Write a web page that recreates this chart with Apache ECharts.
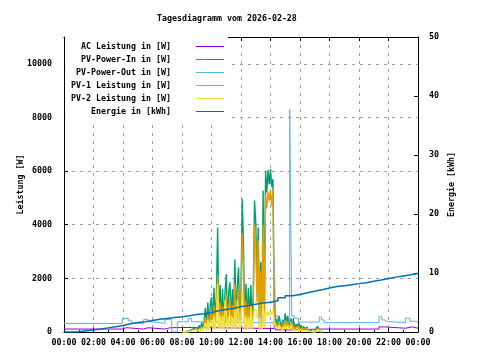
<!DOCTYPE html>
<html><head><meta charset="utf-8">
<script src="https://cdn.jsdelivr.net/npm/echarts@6/dist/echarts.min.js"></script>
<style>html,body{margin:0;padding:0;background:#fff}#c{width:480px;height:360px}</style>
</head><body><div id="c"></div>
<script>
const titleText = 'Tagesdiagramm vom 2026-02-28';
const seriesNames = ['AC Leistung in [W]', 'PV-Power-In in [W]', 'PV-Power-Out in [W]', 'PV-1 Leistung in [W]', 'PV-2 Leistung in [W]', 'Energie in [kWh]'];
const seriesColors = ['#9400d3', '#009e73', '#56b4e9', '#e69f00', '#f0e442', '#0072b2'];
const leftAxisName = 'Leistung [W]';
const rightAxisName = 'Energie [kWh]';

// PV samples every 5 minutes starting 08:00 (held until next sample)
const pvStartHour = 8;
const pvStepMinutes = 5;
const pvInW = [
  0,0,15,20,30,40,60,90,110,140,120,170,
  200,60,250,80,360,100,420,900,150,1100,200,1000,
  1300,300,1650,400,1400,3900,300,1750,350,1600,300,1500,
  2150,350,1500,1850,300,1600,400,2700,350,1700,2400,300,
  1500,4950,3300,350,1800,300,1650,400,1750,350,1500,4900,
  4100,1700,3900,350,2600,400,5270,500,5980,5200,6040,5500,
  6080,5400,5700,1200,300,500,250,600,350,200,450,300,
  700,300,600,250,400,500,200,350,150,300,200,350,
  150,250,100,200,120,180,80,60,40,20,10,0,
  0,80,220,120,0,0,0
];
const pv1W = [
  0,0,10,10,15,20,30,50,60,80,70,100,
  110,30,140,40,200,50,240,550,80,650,100,600,
  800,150,1000,200,850,2130,150,1100,150,950,150,400,
  1400,150,900,1200,150,1000,200,1800,150,600,1600,150,
  950,3680,2400,150,1150,150,1050,200,700,150,950,4000,
  3300,1100,3400,150,2300,200,4000,250,5110,4600,5240,4900,
  5280,4700,5300,700,150,300,150,350,200,120,270,180,
  450,180,380,150,250,320,120,220,90,190,120,220,
  90,150,60,120,70,110,50,35,25,10,5,0,
  0,50,130,70,0,0,0
];
const pv2W = [
  0,0,5,10,15,20,30,40,50,60,50,70,
  90,20,110,30,160,40,180,350,60,450,80,400,
  450,80,600,100,500,1800,80,600,100,600,80,1200,
  700,100,550,600,80,550,100,850,100,1200,750,80,
  500,1500,850,100,600,80,550,100,1000,100,500,850,
  800,550,500,100,300,100,1100,150,800,600,750,600,
  750,650,800,450,150,200,100,250,150,80,180,120,
  250,120,220,100,150,180,80,130,60,110,80,130,
  60,100,40,80,50,70,30,25,15,10,5,0,
  0,30,90,50,0,0,0
];

// change points [hour] and values (held until next change)
const acHours = [0, 3.9, 4.25, 5.4, 5.7, 6.85, 7.2, 7.3, 8.7, 14.25, 14.33, 15.55, 15.63, 16.0, 17.2, 17.3, 21.35, 21.75, 23.15, 23.6, 24];
const acW     = [110, 160, 110, 160, 110, 160, 110, 170, 130, 1500, 80, 500, 80, 110, 200, 110, 190, 140, 190, 140, 140];

const pvOutHours = [0, 3.95, 4.36, 4.6, 5.4, 5.7, 6.05, 6.85, 7.3, 7.68, 8.43, 8.65, 9.45, 14.25, 14.35, 14.5, 15.3, 15.37, 15.44, 15.6, 15.9, 17.3, 17.45, 17.65, 21.35, 21.55, 21.75, 21.9, 23.15, 23.45, 23.9, 24];
const pvOutW     = [320, 500, 420, 320, 470, 380, 320, 470, 0, 380, 500, 380, 340, 2650, 600, 380, 8300, 4350, 600, 510, 370, 560, 450, 350, 570, 450, 390, 350, 520, 400, 330, 330];

// energy every 30 minutes from 00:00
const energyStepHours = 0.5;
const energyKWh = [0,0.05,0.2,0.35,0.5,0.7,0.9,1.1,1.4,1.6,1.75,1.95,2.15,2.3,2.45,2.6,2.75,2.95,3.1,3.3,3.6,3.8,4.0,4.3,4.5,4.7,4.9,5.05,5.3,5.8,6.15,6.35,6.65,6.9,7.15,7.45,7.7,7.85,8.0,8.2,8.35,8.6,8.8,9.05,9.3,9.5,9.7,9.9,10.1];

const xMin = 0, xMax = 24, xInterval = 2;
const leftMax = 11000, leftInterval = 2000;
const rightMax = 50, rightInterval = 10;

const FONT = 'DejaVu Sans Mono';
const FS = 8.3;
const pvPairs = arr => arr.map((v, i) => [pvStartHour + i * pvStepMinutes / 60, v]);
const zipPairs = (xs, ys) => xs.map((x, i) => [x, ys[i]]);
const energyPairs = energyKWh.map((v, i) => [i * energyStepHours, v]);
const pad = n => (n < 10 ? '0' : '') + n;

const txt = { fontFamily: FONT, fontSize: FS, fontWeight: 'bold', color: '#000' };
const grid = { lineStyle: { color: '#a0a0a0', type: [3, 5], width: 1 } };
const blackLine = { show: true, onZero: false, lineStyle: { color: '#000', width: 1 } };
const tick = { show: true, inside: true, length: 4, lineStyle: { color: '#000' } };
const minor = { show: true, splitNumber: 2, length: 2, lineStyle: { color: '#000' } };

function mk(name, idx, data, yIdx, w) {
  return {
    name, type: 'line', step: 'end', data, yAxisIndex: yIdx || 0,
    symbol: 'none', showSymbol: false, animation: false,
    lineStyle: { color: seriesColors[idx], width: w || 1 },
    itemStyle: { color: seriesColors[idx] },
    emphasis: { disabled: true }
  };
}

const chart = echarts.init(document.getElementById('c'), null, { renderer: 'canvas' });
chart.setOption({
  animation: false,
  backgroundColor: '#fff',
  title: { text: titleText, left: 157, top: 15, padding: 0, textStyle: Object.assign({}, txt) },
  legend: {
    orient: 'vertical', right: 252, top: 37, align: 'right',
    icon: 'rect', itemWidth: 28, itemHeight: 1, itemGap: 0,
    padding: [3, 4, 3, 6], backgroundColor: '#fff',
    selectedMode: false,
    formatter: n => n + '    ',
    textStyle: Object.assign({ lineHeight: 13 }, txt),
    data: seriesNames
  },
  grid: { left: 64, right: 62, top: 37, bottom: 28, containLabel: false },
  xAxis: [{
    type: 'value', min: xMin, max: xMax, interval: xInterval, position: 'bottom',
    axisLine: blackLine, axisTick: tick, minorTick: minor,
    axisLabel: Object.assign({ margin: 7, formatter: v => pad(v % 24) + ':00' }, txt),
    splitLine: Object.assign({ show: true, showMinLine: false, showMaxLine: false }, grid)
  }, {
    type: 'value', min: xMin, max: xMax, interval: xInterval, position: 'top',
    axisLine: blackLine, axisTick: tick,
    axisLabel: { show: false }, splitLine: { show: false }
  }],
  yAxis: [{
    type: 'value', min: 0, max: leftMax, interval: leftInterval, position: 'left',
    name: leftAxisName, nameLocation: 'middle', nameRotate: 90, nameGap: 39, nameMoveOverlap: false,
    nameTextStyle: Object.assign({}, txt),
    axisLine: blackLine, axisTick: tick,
    axisLabel: Object.assign({ margin: 12, showMaxLabel: false, formatter: v => String(v) }, txt),
    splitLine: Object.assign({ show: true, showMinLine: false, showMaxLine: false }, grid)
  }, {
    type: 'value', min: 0, max: rightMax, interval: rightInterval, position: 'right',
    name: rightAxisName, nameLocation: 'middle', nameRotate: 90, nameGap: 30, nameMoveOverlap: false,
    nameTextStyle: Object.assign({}, txt),
    axisLine: blackLine, axisTick: tick,
    axisLabel: Object.assign({ margin: 11, formatter: v => String(v) }, txt),
    splitLine: { show: false }
  }],
  series: [
    mk(seriesNames[0], 0, zipPairs(acHours, acW)),
    mk(seriesNames[1], 1, pvPairs(pvInW), 0, 1.4),
    mk(seriesNames[2], 2, zipPairs(pvOutHours, pvOutW)),
    mk(seriesNames[3], 3, pvPairs(pv1W), 0, 1.4),
    mk(seriesNames[4], 4, pvPairs(pv2W), 0, 1.4),
    mk(seriesNames[5], 5, energyPairs, 1, 1.5)
  ]
});
</script>
</body></html>
